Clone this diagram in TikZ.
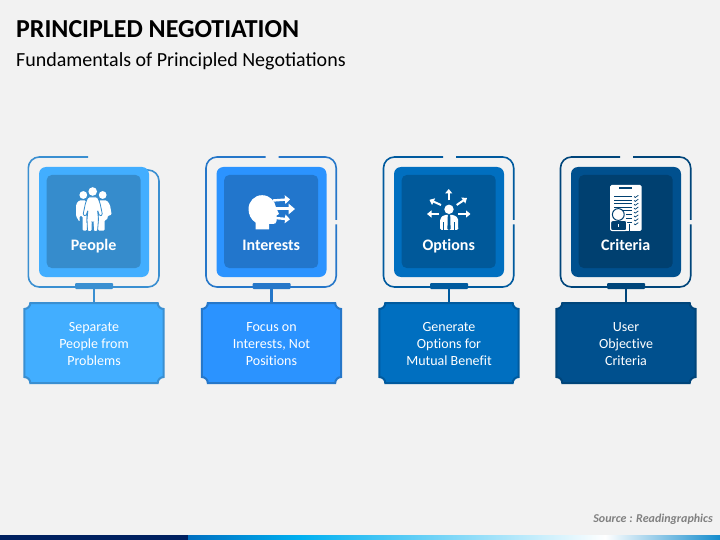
\documentclass[tikz,border=0pt]{standalone}
\usepackage{fontspec}
\setmainfont{Carlito}
\newfontfamily\plainf[Ligatures=NoCommon]{Carlito}
\usetikzlibrary{arrows.meta}
\definecolor{bgc}{HTML}{F2F2F2}
\definecolor{fa}{HTML}{3A8FD1}\definecolor{sa}{HTML}{42AEFF}\definecolor{ina}{HTML}{368CCC}
\definecolor{fb}{HTML}{2677C9}\definecolor{sb}{HTML}{2B93FF}\definecolor{inb}{HTML}{2276CC}
\definecolor{fc}{HTML}{005A9E}\definecolor{sc}{HTML}{006FC0}\definecolor{inc}{HTML}{00599A}
\definecolor{fd}{HTML}{00457A}\definecolor{sd}{HTML}{00508E}\definecolor{ind}{HTML}{004070}
\definecolor{navy}{HTML}{002060}
\definecolor{skyc}{HTML}{00B0F0}
\definecolor{endc}{HTML}{148CCD}
\tikzset{
  frameline/.style={line width=1.6pt,rounded corners=11pt},
  squarebox/.style={rectangle,inner sep=0pt,outer sep=0pt,minimum width=110pt,minimum height=110pt,rounded corners=7pt},
  innerbox/.style={rectangle,inner sep=0pt,outer sep=0pt,minimum width=94pt,minimum height=93pt,rounded corners=5pt},
  tabbox/.style={rectangle,inner sep=0pt,outer sep=0pt,minimum width=38pt,minimum height=6pt,rounded corners=1pt},
  textbox/.style={rectangle,inner sep=0pt,outer sep=0pt,minimum width=139.4pt,minimum height=82pt,text=white,align=center,font=\plainf\fontsize{14}{17}\selectfont},
  cardlabel/.style={inner sep=0pt,text=white,anchor=base,font=\plainf\fontsize{16}{18}\selectfont\bfseries},
  stem/.style={line width=2.4pt},
  iconarrow/.style={white,line width=2pt,-{Triangle[length=4.5pt,width=7pt]}},
  sidearrow/.style={white,line width=2.4pt,-{Triangle[length=5pt,width=8.5pt]}},
  bigarrow/.style={white,line width=3pt,-{Triangle[length=6.5pt,width=10.5pt]}},
  title/.style={inner sep=0pt,anchor=base west},
}
\begin{document}
\begin{tikzpicture}[x=1pt,y=-1pt]
\useasboundingbox (0,0) rectangle (720,540);
\fill[bgc] (0,0) rectangle (720,540);
\node[title,font=\fontsize{25.9}{30}\selectfont\bfseries] (head) at (16,37.3) {PRINCIPLED NEGOTIATION};
\node[title,font=\fontsize{20}{24}\selectfont] (sub) at (16,66.5) {Fundamentals of Principled Negotiations};
% frames
\draw[frameline,draw=fa] (88,157) -- (28.3,157) -- (28.3,287) -- (159,287) -- (159,170) -- (143,170);
\foreach \dx/\nm in {177.5/b,355/c,532/d}{
  \begin{scope}[shift={(\dx,0)}]
    \draw[frameline,draw=f\nm] (101,157) -- (158.7,157) -- (158.7,220);
    \draw[frameline,draw=f\nm] (158.7,224.3) -- (158.7,287) -- (28.5,287) -- (28.5,157) -- (88,157);
  \end{scope}
}
% cards
\foreach \dx/\nm/\lab/\txt in {
  0/a/People/{Separate\\People from\\Problems},
  177.5/b/Interests/{Focus on\\Interests, Not\\Positions},
  355/c/Options/{Generate\\Options for\\Mutual Benefit},
  532/d/Criteria/{User\\Objective\\Criteria}}{
  \begin{scope}[shift={(\dx,0)}]
    \fill[fill=s\nm,draw=f\nm,line width=2pt]
      (30.3,303) -- (157.7,303) .. controls (157.7,306.3) and (160.4,309) .. (163.7,309)
      -- (163.7,377) .. controls (160.4,377) and (157.7,379.7) .. (157.7,383)
      -- (30.3,383) .. controls (30.3,379.7) and (27.6,377) .. (24.3,377)
      -- (24.3,309) .. controls (27.6,309) and (30.3,306.3) .. (30.3,303) -- cycle;
    \node[squarebox,fill=s\nm] (sq\nm) at (94,222) {};
    \node[innerbox,fill=in\nm] (in\nm) at (93.7,221.5) {};
    \node[tabbox,fill=f\nm] (tab\nm) at (94,286) {};
    \node[textbox] (box\nm) at (94,344) {\txt};
    \draw[stem,draw=f\nm] (tab\nm.south) -- (box\nm.north);
    \node[cardlabel] (lab\nm) at (93.7,250) {\lab};
  \end{scope}
}
% people icon
\fill[white,rounded corners=1.2pt] (79,200.5) -- (86,200.5) -- (87,230.7) -- (82.5,230.7) -- (82.5,216) -- (79.5,216) -- (79.5,222) -- (76,216) -- (76.2,204) -- cycle;
\fill[white,rounded corners=1.2pt] (99,200.5) -- (107,200.5) -- (110,205) -- (111.7,215) -- (108,215.5) -- (107,220) -- (104.5,220) -- (104.5,230.7) -- (98,230.7) -- cycle;
\fill[white] (83.3,195) circle (3.9);
\fill[white] (102.7,195) circle (3.9);
\draw[ina,line width=.8pt,fill=white,rounded corners=1.2pt] (88,197) -- (97.5,197) -- (100,203) -- (102.5,215) -- (99.5,216) -- (97.5,210) -- (98.5,219) -- (97.5,231.5) -- (93.5,231.5) -- (93.2,222) -- (92.2,222) -- (91.9,231.5) -- (87.5,231.5) -- (87,219) -- (88,210) -- (86,216) -- (83,215) -- (85.5,203) -- cycle;
\fill[white] (92.7,191.5) circle (4.3);
% interests icon
\draw[sidearrow] (273,200.5) -- (290,199.3);
\draw[bigarrow] (275,209) -- (295,209);
\draw[sidearrow] (275,218) -- (290,219.3);
\fill[white] (255.5,229.5) -- (255.5,222.5) .. controls (251,219.5) and (248.5,214.5) .. (248.5,209) .. controls (248.5,201.5) and (254.5,195.2) .. (262,195.2) .. controls (270,195.2) and (275,201) .. (276,207.5) -- (279,214) -- (276.5,215.5) -- (276.5,221) .. controls (276.5,223) and (275,224) .. (273,224) -- (269,224) -- (269,229.5) -- cycle;
% options icon
\fill[white] (449,209.3) circle (4.7);
\fill[white,rounded corners=1.5pt] (444,215) -- (454,215) -- (458,218) -- (458.3,230) -- (440,230) -- (440.3,218) -- cycle;
\fill[inc] (447.8,215) -- (450.2,215) -- (450.6,229) -- (449,230) -- (447.4,229) -- cycle;
\fill[inc] (442.8,222) rectangle (443.6,230);
\fill[inc] (454.4,222) rectangle (455.2,230);
\draw[iconarrow] (448.7,200.5) -- (448.7,189);
\draw[iconarrow] (441,205) -- (429.5,199.8);
\draw[iconarrow] (456.7,205) -- (467,198);
\draw[iconarrow] (439.3,214) -- (427,214);
\draw[iconarrow] (458.3,214) -- (470.5,214);
% criteria icon
\fill[white,rounded corners=1.5pt] (610,185) rectangle (641.7,231);
\draw[ind,line width=1.5pt] (619,187.9) -- (632.3,187.9);
\foreach \y in {196.7,200.2,203.7,207.2,210.7}{\draw[ind,line width=.9pt] (614,\y) -- (632.3,\y);}
\foreach \y in {214,218,222}{\draw[ind,line width=.9pt] (626,\y) -- (632.3,\y);}
\foreach \y in {196.5,200.4,204.3,208.2,212.1,216,219.9,223.8}{\draw[ind,line width=.7pt] (634,\y) -- (635.3,\y+1) -- (638.3,\y-1.2);}
\draw[ind,line width=.8pt] (629,231) -- (629,224);
\draw[white,fill=ind,line width=1pt,rounded corners=2pt] (610.7,220.5) rectangle (626.7,230.7);
\draw[ind,fill=white,line width=1pt] (618.3,214.5) circle (5.9);
\draw[white,line width=1.3pt] (618.4,224) -- (618.4,227.3);
% footer
\node[inner sep=0pt,anchor=base east,text=black!50,font=\fontsize{12}{14}\selectfont\bfseries\itshape] (src) at (713,522) {Source : Readingraphics};
\fill[navy] (0,535) rectangle (188.2,540);
\shade[left color=sc,right color=skyc] (188,535) rectangle (300.3,540);
\shade[left color=skyc,right color=white] (300,535) rectangle (605.3,540);
\shade[left color=white,right color=endc] (605,535) rectangle (720,540);
\end{tikzpicture}
\end{document}
